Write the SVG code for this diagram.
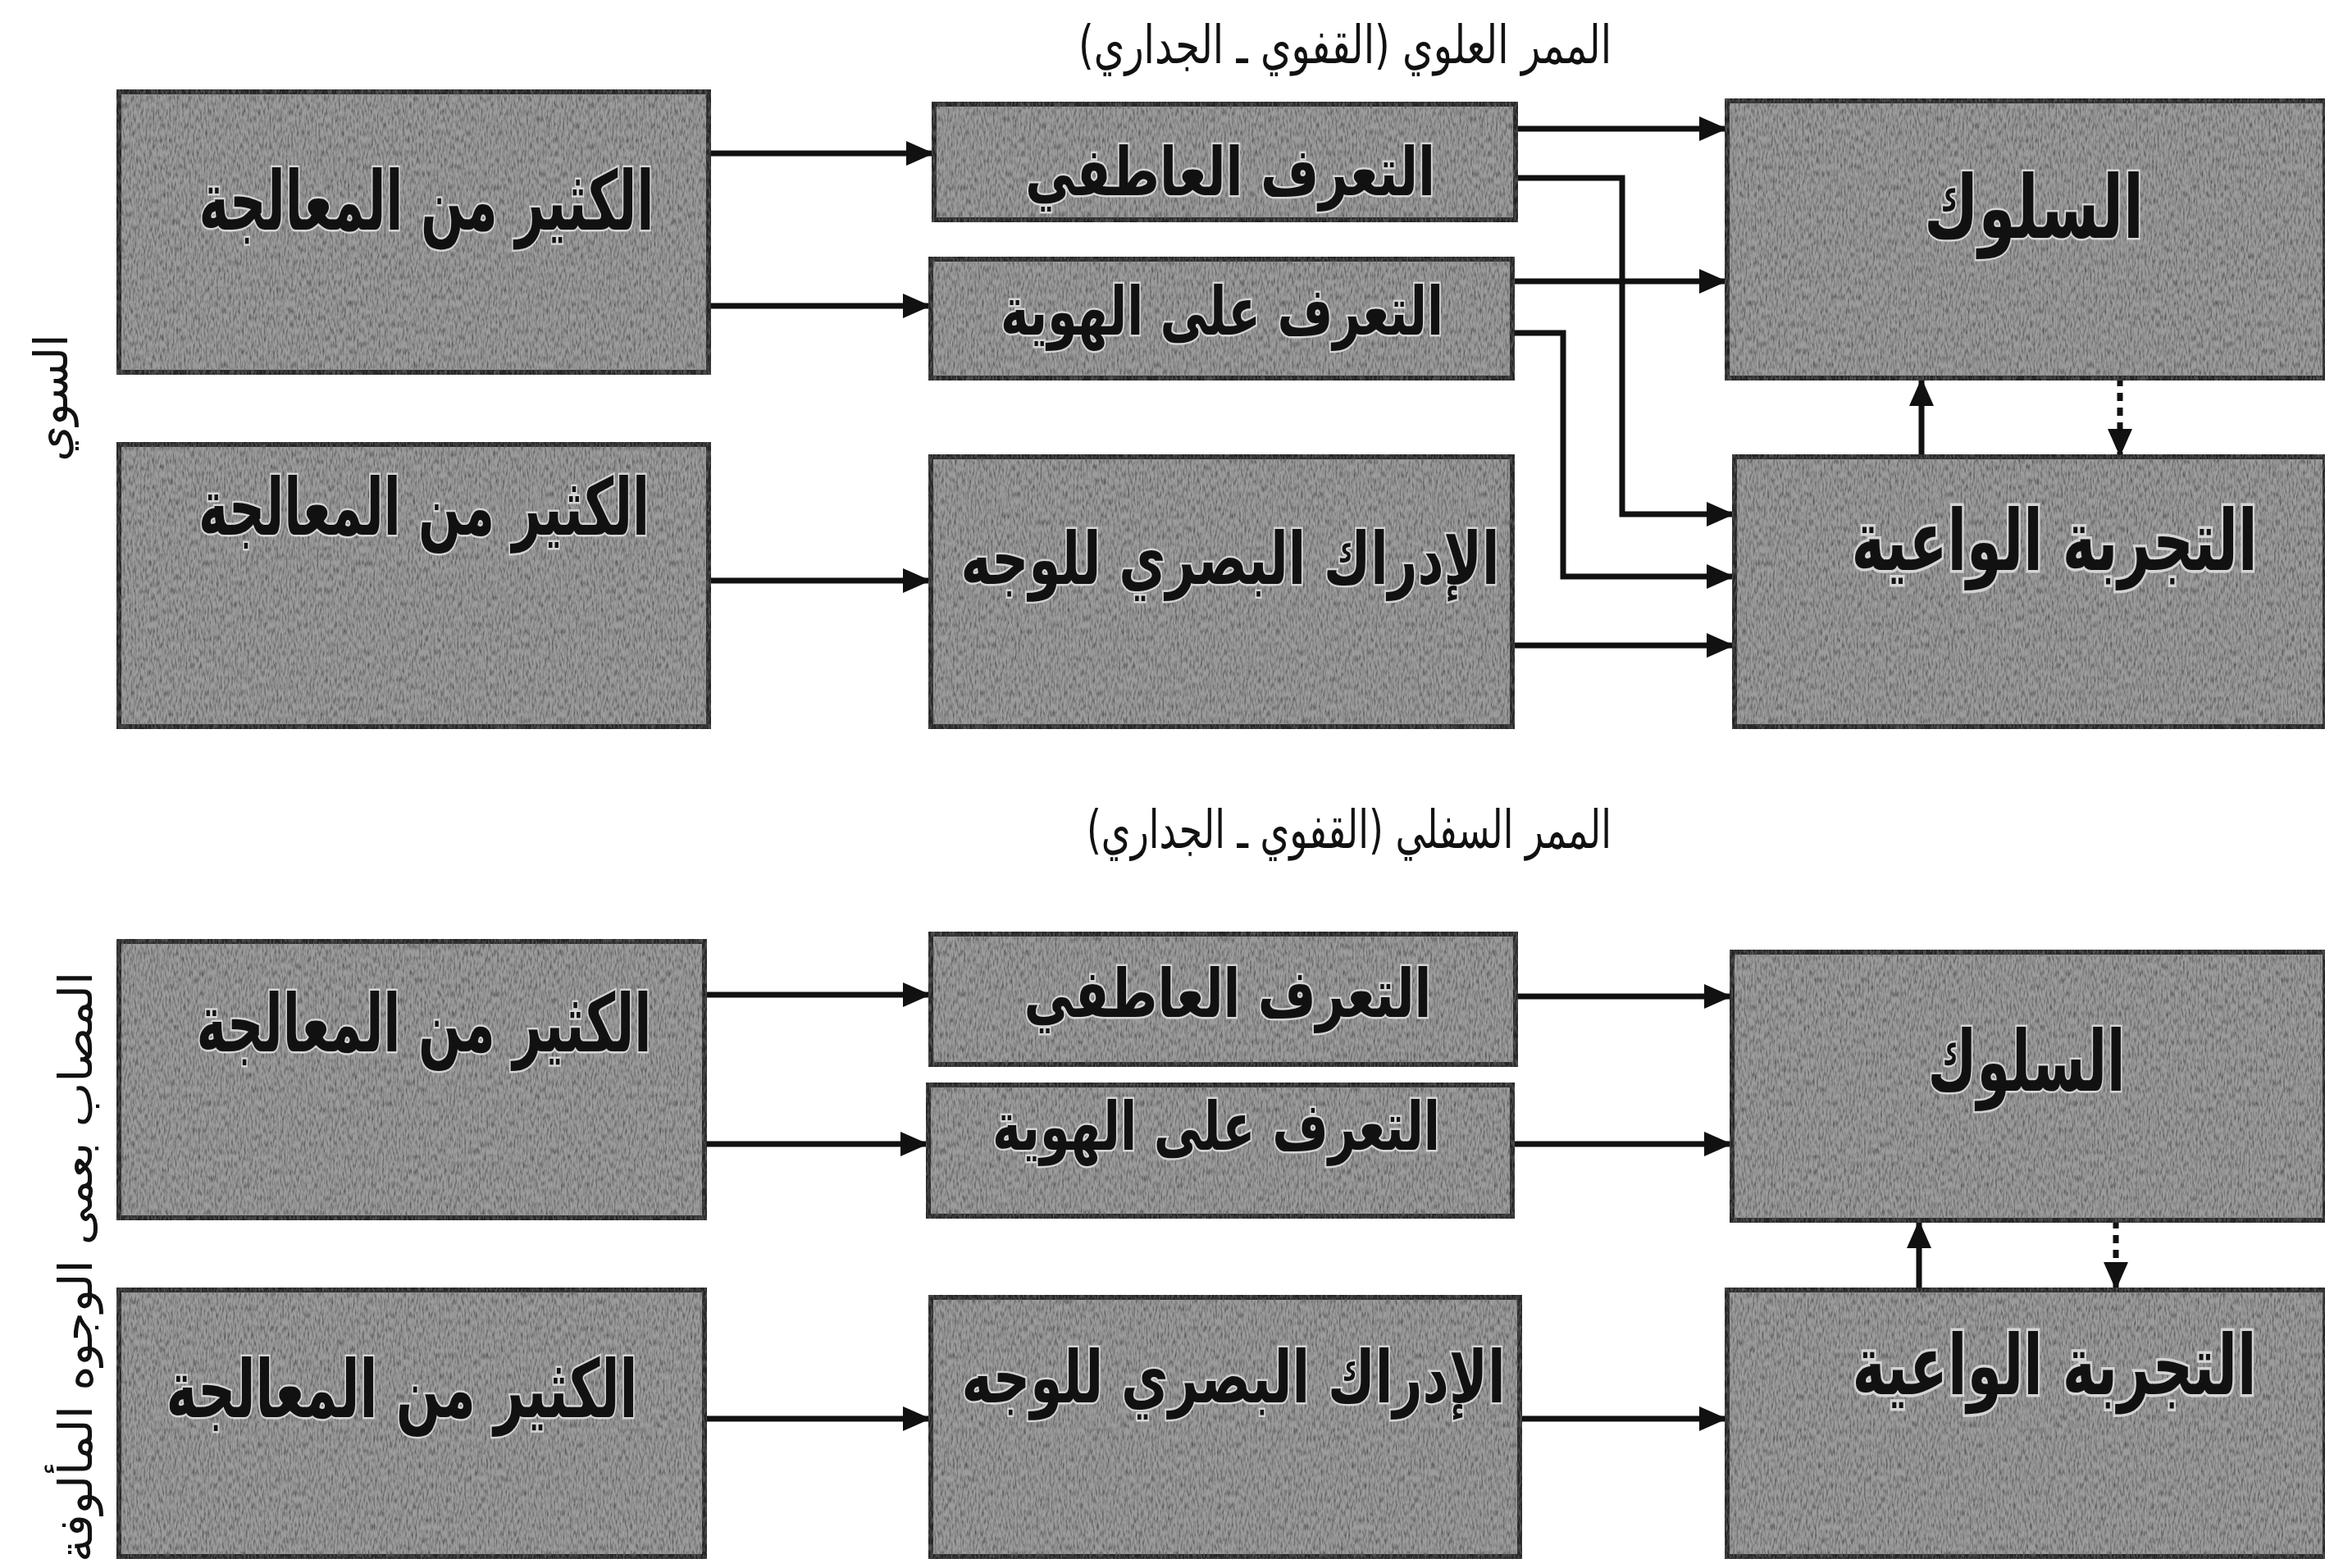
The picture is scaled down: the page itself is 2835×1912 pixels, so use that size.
<svg xmlns="http://www.w3.org/2000/svg" width="2835" height="1912" viewBox="0 0 2835 1912">
<style>
.box{fill:#9c9c9c;stroke:#262626;stroke-width:6;filter:url(#tex)}
.lbl{font-family:"DejaVu Sans",sans-serif;font-weight:bold;fill:#111;stroke:#d4d4d4;stroke-width:5;paint-order:stroke;text-anchor:middle;direction:rtl}
.ttl{font-family:"DejaVu Sans",sans-serif;font-size:64px;fill:#111;text-anchor:middle;direction:rtl}
.side{font-family:"DejaVu Sans",sans-serif;font-size:56px;fill:#111;text-anchor:middle;direction:rtl}
.ln{fill:none;stroke:#111;stroke-width:7;marker-end:url(#ah)}
.dash{stroke-dasharray:10 8}
</style>
<defs>
<marker id="ah" markerUnits="userSpaceOnUse" markerWidth="34" markerHeight="30" refX="34" refY="15" orient="auto">
<path d="M0,0 L34,15 L0,30 z" fill="#111"/>
</marker>
<filter id="tex" x="-2%" y="-3%" width="104%" height="106%">
<feTurbulence type="fractalNoise" baseFrequency="0.45 0.12" numOctaves="2" seed="5" result="t"/>
<feColorMatrix in="t" type="matrix" values="0 0 0 0 0.1  0 0 0 0 0.1  0 0 0 0 0.1  2.2 0 0 0 -0.85" result="dk"/>
<feComposite in="dk" in2="SourceGraphic" operator="in" result="dk2"/>
<feMerge><feMergeNode in="SourceGraphic"/><feMergeNode in="dk2"/></feMerge>
</filter>
</defs>
<rect width="2835" height="1912" fill="#ffffff"/>

<text class="ttl" x="1640" y="77" textLength="650" lengthAdjust="spacingAndGlyphs">الممر العلوي (القفوي ـ الجداري)</text>
<text class="ttl" x="1645" y="1034" textLength="640" lengthAdjust="spacingAndGlyphs">الممر السفلي (القفوي ـ الجداري)</text>
<text class="side" transform="translate(82,485) rotate(-90)">السوي</text>
<text class="side" transform="translate(112,1545) rotate(-90)" textLength="720" lengthAdjust="spacingAndGlyphs">المصاب بعمى الوجوه المألوفة</text>

<g id="connectors">
<path class="ln" d="M864,187 H1139"/>
<path class="ln" d="M864,373 H1135"/>
<path class="ln" d="M864,708 H1135"/>
<path class="ln" d="M1848,157 H2106"/>
<path class="ln" d="M1844,343 H2106"/>
<path class="ln" d="M1848,217 H1978 V627 H2115"/>
<path class="ln" d="M1844,406 H1906 V703 H2115"/>
<path class="ln" d="M1844,787 H2115"/>
<path class="ln" d="M2343,557 V461"/>
<path class="ln dash" d="M2585,461 V557"/>
<path class="ln" d="M859,1213 H1135"/>
<path class="ln" d="M859,1395 H1132"/>
<path class="ln" d="M859,1730 H1135"/>
<path class="ln" d="M1848,1215 H2112"/>
<path class="ln" d="M1844,1395 H2112"/>
<path class="ln" d="M1853,1730 H2106"/>
<path class="ln" d="M2340,1573 V1488"/>
<path class="ln dash" d="M2580,1488 V1573"/>
</g>

<g id="n-a1"><rect class="box" x="145" y="112" width="719" height="342"/><text class="lbl" x="520" y="280" font-size="100" textLength="555" lengthAdjust="spacingAndGlyphs">الكثير من المعالجة</text></g>
<g id="n-a2"><rect class="box" x="145" y="542" width="719" height="344"/><text class="lbl" x="517" y="652" font-size="96" textLength="550" lengthAdjust="spacingAndGlyphs">الكثير من المعالجة</text></g>
<g id="n-b1"><rect class="box" x="1139" y="127" width="709" height="141"/><text class="lbl" x="1500" y="238" font-size="82" textLength="500" lengthAdjust="spacingAndGlyphs">التعرف العاطفي</text></g>
<g id="n-b2"><rect class="box" x="1135" y="316" width="709" height="145"/><text class="lbl" x="1490" y="408" font-size="82" textLength="540" lengthAdjust="spacingAndGlyphs">التعرف على الهوية</text></g>
<g id="n-b3"><rect class="box" x="1135" y="557" width="709" height="329"/><text class="lbl" x="1500" y="712" font-size="88" textLength="657" lengthAdjust="spacingAndGlyphs">الإدراك البصري للوجه</text></g>
<g id="n-c1"><rect class="box" x="2106" y="123" width="729" height="338"/><text class="lbl" x="2480" y="290" font-size="106" textLength="268" lengthAdjust="spacingAndGlyphs">السلوك</text></g>
<g id="n-c2"><rect class="box" x="2115" y="557" width="720" height="329"/><text class="lbl" transform="translate(2505,695) scale(1,1.42)" x="0" y="0" font-size="72" stroke-width="4" textLength="495" lengthAdjust="spacingAndGlyphs">التجربة الواعية</text></g>

<g id="n-d1"><rect class="box" x="145" y="1148" width="714" height="337"/><text class="lbl" x="517" y="1282" font-size="98" textLength="555" lengthAdjust="spacingAndGlyphs">الكثير من المعالجة</text></g>
<g id="n-d2"><rect class="box" x="145" y="1573" width="714" height="325"/><text class="lbl" x="490" y="1728" font-size="98" textLength="575" lengthAdjust="spacingAndGlyphs">الكثير من المعالجة</text></g>
<g id="n-e1"><rect class="box" x="1135" y="1139" width="713" height="159"/><text class="lbl" x="1497" y="1240" font-size="82" textLength="497" lengthAdjust="spacingAndGlyphs">التعرف العاطفي</text></g>
<g id="n-e2"><rect class="box" x="1132" y="1323" width="712" height="160"/><text class="lbl" x="1483" y="1402" font-size="82" textLength="546" lengthAdjust="spacingAndGlyphs">التعرف على الهوية</text></g>
<g id="n-e3"><rect class="box" x="1135" y="1582" width="718" height="316"/><text class="lbl" x="1504" y="1710" font-size="88" textLength="663" lengthAdjust="spacingAndGlyphs">الإدراك البصري للوجه</text></g>
<g id="n-f1"><rect class="box" x="2112" y="1161" width="723" height="327"/><text class="lbl" x="2471" y="1330" font-size="102" textLength="241" lengthAdjust="spacingAndGlyphs">السلوك</text></g>
<g id="n-f2"><rect class="box" x="2106" y="1573" width="729" height="325"/><text class="lbl" transform="translate(2505,1700) scale(1,1.4)" x="0" y="0" font-size="72" stroke-width="4" textLength="493" lengthAdjust="spacingAndGlyphs">التجربة الواعية</text></g>
</svg>
